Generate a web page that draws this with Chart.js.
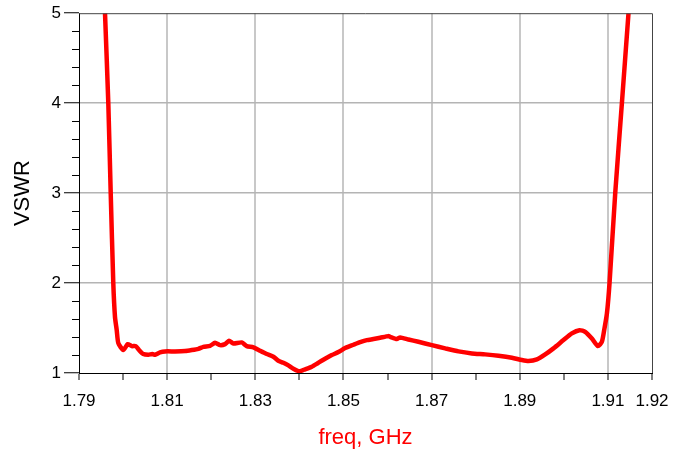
<!DOCTYPE html>
<html>
<head>
<meta charset="utf-8">
<script src="https://cdn.jsdelivr.net/npm/chart.js@4"></script>
<style>
  body { margin: 0; background: #fff; }
</style>
</head>
<body>
<canvas id="myChart" width="686" height="455"></canvas>
<script>
// values
const freq = [1.7959, 1.79665, 1.7972, 1.79778, 1.79817, 1.79856, 1.79892, 1.80005, 1.80105, 1.80196,
  1.80287, 1.80362, 1.80459, 1.80573, 1.80664, 1.80725, 1.80838, 1.80952, 1.81179, 1.81406,
  1.81558, 1.81708, 1.81821, 1.81973, 1.82087, 1.822, 1.82314, 1.82404, 1.82502, 1.82693,
  1.82806, 1.82956, 1.83108, 1.8326, 1.8341, 1.83523, 1.83637, 1.8375, 1.83864, 1.84,
  1.84129, 1.84281, 1.84431, 1.84583, 1.84735, 1.84885, 1.85037, 1.85226, 1.85378, 1.8553,
  1.8568, 1.85832, 1.8602, 1.86059, 1.86211, 1.86286, 1.86474, 1.86701, 1.87005, 1.87307,
  1.87609, 1.87913, 1.88215, 1.88517, 1.88821, 1.89048, 1.89198, 1.89388, 1.89577, 1.89765,
  1.89992, 1.90182, 1.90355, 1.90484, 1.90636, 1.90773, 1.90863, 1.90915, 1.90977, 1.91036,
  1.91165, 1.91317, 1.91467];
const vswr = [5.0, 4.0, 2.99, 2.0, 1.62, 1.476, 1.332, 1.255, 1.321, 1.299,
  1.299, 1.255, 1.211, 1.203, 1.211, 1.203, 1.229, 1.24, 1.24, 1.244,
  1.255, 1.269, 1.291, 1.302, 1.336, 1.31, 1.321, 1.358, 1.329, 1.34,
  1.299, 1.285, 1.247, 1.211, 1.181, 1.136, 1.114, 1.085, 1.048, 1.019,
  1.041, 1.07, 1.114, 1.158, 1.199, 1.233, 1.277, 1.314, 1.343, 1.366,
  1.377, 1.391, 1.41, 1.402, 1.377, 1.396, 1.373, 1.347, 1.31, 1.274,
  1.24, 1.218, 1.207, 1.192, 1.17, 1.144, 1.133, 1.152, 1.207, 1.274,
  1.366, 1.44, 1.476, 1.458, 1.384, 1.299, 1.347, 1.476, 1.661, 1.997,
  2.994, 4.0, 5.0];

const xTicks = [1.79, 1.80, 1.81, 1.82, 1.83, 1.84, 1.85, 1.86, 1.87, 1.88, 1.89, 1.90, 1.91, 1.92];
const xLabels = ['1.79', '1.81', '1.83', '1.85', '1.87', '1.89', '1.91', '1.92'];
const xGrid = ['1.81', '1.83', '1.85', '1.87', '1.89', '1.91'];
const yMinor = [1.2, 1.4, 1.6, 1.8, 2.2, 2.4, 2.6, 2.8, 3.2, 3.4, 3.6, 3.8, 4.2, 4.4, 4.6, 4.8];

const points = freq.map((f, i) => ({ x: f, y: vswr[i] }));

// short y ticks + top/right frame
const frame = {
  id: 'frame',
  afterDraw(chart) {
    const { ctx, chartArea: a, scales: { y } } = chart;
    ctx.save();
    ctx.strokeStyle = '#000';
    ctx.lineWidth = 1;
    yMinor.forEach(v => {
      const py = Math.round(y.getPixelForValue(v)) + 0.5;
      ctx.beginPath();
      ctx.moveTo(a.left - 7, py);
      ctx.lineTo(a.left, py);
      ctx.stroke();
    });
    ctx.strokeStyle = '#444';
    ctx.beginPath();
    ctx.moveTo(a.left, a.top + 0.5);
    ctx.lineTo(a.right + 0.5, a.top + 0.5);
    ctx.lineTo(a.right + 0.5, a.bottom);
    ctx.stroke();
    ctx.restore();
  }
};

const font = 'Liberation Sans, Arial, sans-serif';

new Chart(document.getElementById('myChart'), {
  type: 'line',
  data: {
    datasets: [{
      data: points,
      borderColor: '#ff0000',
      borderWidth: 4.5,
      pointRadius: 0,
      tension: 0.2,
      fill: false
    }]
  },
  options: {
    responsive: false,
    animation: false,
    devicePixelRatio: 1,
    layout: { padding: { top: 12, right: 34, left: 0, bottom: 0 } },
    plugins: { legend: { display: false }, tooltip: { enabled: false } },
    scales: {
      x: {
        type: 'linear',
        min: 1.79,
        max: 1.92,
        afterBuildTicks: s => { s.ticks = xTicks.map(v => ({ value: v })); },
        afterFit: s => { s.height = 82; },
        ticks: {
          autoSkip: false,
          maxRotation: 0,
          padding: 11,
          color: '#000',
          font: { family: font, size: 17 },
          callback: v => {
            const t = v.toFixed(2);
            return xLabels.includes(t) ? t : '';
          }
        },
        grid: {
          color: c => xGrid.includes(c.tick.value.toFixed(2)) ? '#c8c8c8' : 'rgba(0,0,0,0)',
          lineWidth: 2,
          tickColor: '#000',
          tickWidth: 1,
          tickLength: 7
        },
        border: { display: true, color: '#000', width: 1 },
        title: {
          display: true,
          text: 'freq, GHz',
          color: '#ff0000',
          font: { family: font, size: 22 },
          padding: { top: 0, bottom: 4 }
        }
      },
      y: {
        min: 1,
        max: 5,
        afterFit: s => { s.width = 79; },
        ticks: {
          stepSize: 1,
          padding: 3,
          color: '#000',
          font: { family: font, size: 17 }
        },
        grid: {
          color: c => (c.tick.value > 1 && c.tick.value < 5) ? '#b4b4b4' : 'rgba(0,0,0,0)',
          lineWidth: 1.5,
          tickColor: '#000',
          tickWidth: 1,
          tickLength: 15
        },
        border: { display: true, color: '#000', width: 1 },
        title: {
          display: true,
          text: 'VSWR',
          color: '#000',
          font: { family: font, size: 22 },
          padding: { top: 10, bottom: 0 }
        }
      }
    }
  },
  plugins: [frame]
});
</script>
</body>
</html>
